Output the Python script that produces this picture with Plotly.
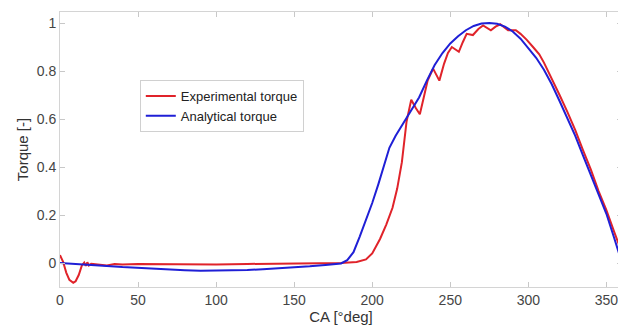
import plotly.graph_objects as go

# Experimental torque (red)
exp_ca = [0, 2, 4, 6, 8.5, 10, 12, 14, 15.5, 16.5, 17.5, 18.5, 20, 25, 30, 35, 40, 50, 60, 80,
          100, 120, 140, 160, 180, 190, 196, 200, 205, 209, 213, 216, 219, 222, 225, 228,
          230.5, 233, 235.5, 239, 243, 246, 248.5, 251, 255.5, 258, 260.5, 264.5, 268, 271,
          276, 279, 282, 287, 292, 295, 299, 303, 307, 310, 315, 320, 325, 330, 335, 340, 345,
          350, 355, 360]
exp_tq = [0.033, 0.005, -0.04, -0.07, -0.082, -0.076, -0.05, -0.01, 0.002, -0.012, 0.003, -0.01,
          -0.003, -0.006, -0.01, -0.004, -0.006, -0.004, -0.005, -0.005, -0.006, -0.004,
          -0.003, -0.002, 0.0, 0.004, 0.015, 0.04, 0.1, 0.16, 0.23, 0.31, 0.42, 0.59, 0.68,
          0.645, 0.62, 0.69, 0.76, 0.81, 0.76, 0.83, 0.875, 0.9, 0.88, 0.92, 0.955, 0.95,
          0.975, 0.99, 0.97, 0.985, 0.995, 0.97, 0.97, 0.955, 0.93, 0.9, 0.87, 0.835, 0.77, 0.7,
          0.63, 0.555, 0.47, 0.39, 0.3, 0.22, 0.13, 0.042]

# Analytical torque (blue)
ana_ca = [0, 10, 20, 30, 40, 50, 60, 70, 80, 90, 100, 110, 120, 130, 140, 150, 160, 170, 180,
          184, 188, 192, 196, 200, 204, 208, 211, 215, 220, 225, 230, 235, 240, 245, 250, 255,
          260, 265, 270, 275, 280, 285, 290, 295, 300, 305, 310, 315, 320, 325, 330, 335, 340,
          345, 350, 355, 360]
ana_tq = [0.0, -0.003, -0.007, -0.012, -0.017, -0.021, -0.025, -0.028, -0.03, -0.032, -0.032,
          -0.031, -0.029, -0.026, -0.023, -0.019, -0.014, -0.008, -0.002, 0.012, 0.045, 0.11,
          0.18, 0.25, 0.33, 0.41, 0.48, 0.53, 0.585, 0.635, 0.69, 0.76, 0.825, 0.875, 0.915,
          0.945, 0.97, 0.988, 0.998, 1.0, 0.997, 0.985, 0.965, 0.935, 0.895, 0.855, 0.805,
          0.745, 0.675, 0.605, 0.531, 0.449, 0.367, 0.285, 0.205, 0.104, 0.0]

x_ticks = [0, 50, 100, 150, 200, 250, 300, 350]
y_ticks = [0, 0.2, 0.4, 0.6, 0.8, 1]
y_labels = ["0", "0.2", "0.4", "0.6", "0.8", "1"]

fig = go.Figure()
fig.add_trace(go.Scatter(x=exp_ca, y=exp_tq, mode="lines", name="Experimental torque",
                         line=dict(color="#e0232a", width=2)))
fig.add_trace(go.Scatter(x=ana_ca, y=ana_tq, mode="lines", name="Analytical torque",
                         line=dict(color="#1f1fd6", width=2)))

axis_common = dict(showline=True, linecolor="#d4d4d4", linewidth=1, mirror="ticks",
                   ticks="inside", ticklen=5, tickcolor="#c8c8c8", showgrid=False,
                   zeroline=False, automargin=False,
                   tickfont=dict(size=14, color="#454545"))
fig.update_xaxes(range=[0, 360], tickvals=x_ticks,
                 title=dict(text="CA [°deg]", font=dict(size=15, color="#333333"), standoff=4),
                 **axis_common)
fig.update_yaxes(range=[-0.1, 1.046], tickvals=y_ticks, ticktext=y_labels,
                 title=dict(text="Torque [-]", font=dict(size=15, color="#333333"), standoff=4),
                 **axis_common)

fig.update_layout(
    width=618, height=323,
    margin=dict(l=52, r=4, t=4, b=44),
    paper_bgcolor="white", plot_bgcolor="white",
    font=dict(family="Liberation Sans, Arial, sans-serif", color="#333333"),
    showlegend=True,
    legend=dict(x=0.142, y=0.753, xanchor="left", yanchor="top",
                bgcolor="white", bordercolor="#d0d0d0", borderwidth=1,
                font=dict(size=13, color="#222222"), itemwidth=30,
                tracegroupgap=0),
)

fig.write_html("out.html")
